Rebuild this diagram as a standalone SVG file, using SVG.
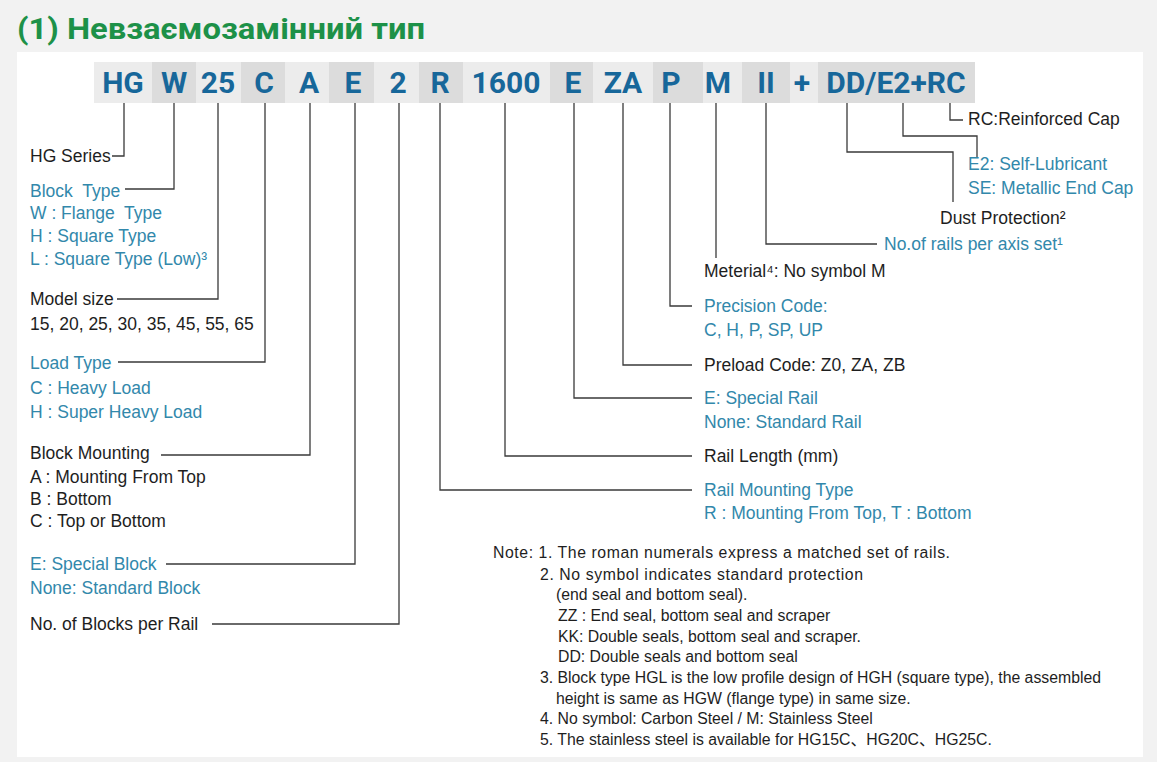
<svg xmlns="http://www.w3.org/2000/svg" width="1157" height="762" viewBox="0 0 1157 762">
<style>
.title{font-family:Roboto,"Liberation Sans",sans-serif;font-weight:bold;font-size:30px;fill:#1d9148}
.code{font-family:Roboto,"Liberation Sans",sans-serif;font-weight:bold;font-size:30px;fill:#17679a;text-anchor:middle}
.bl{fill:#ececec}
.bd{fill:#dcdcdc}
.t{font-family:"Liberation Sans",Arial,sans-serif;font-size:17.5px;fill:#1e1e1e}
.tl{font-family:"Liberation Sans",Arial,sans-serif;font-size:17.5px;fill:#3288ab}
.n{font-family:"Liberation Sans",Arial,"Noto Sans CJK SC",sans-serif;font-size:15.8px;fill:#1e1e1e}
.ln{fill:none;stroke:#3a3a3a;stroke-width:1.3}
</style>
<rect x="0" y="0" width="1157" height="762" fill="#f2f2f2"/>
<rect x="17" y="52" width="1126" height="705" fill="#ffffff"/>
<text class="title" x="17" y="39" textLength="408" lengthAdjust="spacingAndGlyphs">(1) Невзаємозамінний тип</text>

<g id="code">
<g id="c-HG"><rect class="bl" x="94" y="62" width="58" height="41"/><text class="code" x="123" y="93">HG</text></g>
<g id="c-W"><rect class="bd" x="152" y="62" width="44" height="41"/><text class="code" x="174" y="93">W</text></g>
<g id="c-25"><rect class="bl" x="196" y="62" width="45" height="41"/><text class="code" x="218" y="93">25</text></g>
<g id="c-C"><rect class="bd" x="241" y="62" width="44" height="41"/><text class="code" x="264" y="93">C</text></g>
<g id="c-A"><rect class="bl" x="285" y="62" width="44" height="41"/><text class="code" x="309" y="93">A</text></g>
<g id="c-E"><rect class="bd" x="329" y="62" width="45" height="41"/><text class="code" x="353" y="93">E</text></g>
<g id="c-2"><rect class="bl" x="374" y="62" width="45" height="41"/><text class="code" x="398" y="93">2</text></g>
<g id="c-R"><rect class="bd" x="419" y="62" width="44" height="41"/><text class="code" x="440" y="93">R</text></g>
<g id="c-1600"><rect class="bl" x="463" y="62" width="87" height="41"/><text class="code" x="506" y="93">1600</text></g>
<g id="c-E2"><rect class="bd" x="550" y="62" width="43" height="41"/><text class="code" x="573" y="93">E</text></g>
<g id="c-ZA"><rect class="bl" x="593" y="62" width="60" height="41"/><text class="code" x="623" y="93">ZA</text></g>
<g id="c-P"><rect class="bd" x="653" y="62" width="50" height="41"/><text class="code" x="671" y="93">P</text></g>
<g id="c-M"><rect class="bl" x="703" y="62" width="39" height="41"/><text class="code" x="718" y="93">M</text></g>
<g id="c-II"><rect class="bd" x="742" y="62" width="48" height="41"/><text class="code" x="766" y="93">II</text></g>
<g id="c-plus"><rect class="bl" x="790" y="62" width="28" height="41"/><text class="code" x="802" y="93">+</text></g>
<g id="c-DD"><rect class="bd" x="818" y="62" width="157" height="41"/><text class="code" x="896" y="93">DD/E2+RC</text></g>
</g>

<g id="connectors">
<path class="ln" d="M124 103V156H112"/>
<path class="ln" d="M174 103V189H125"/>
<path class="ln" d="M218 103V299H117"/>
<path class="ln" d="M265 103V362H118"/>
<path class="ln" d="M310 103V455H161"/>
<path class="ln" d="M355 103V564H166"/>
<path class="ln" d="M399 103V624H212"/>
<path class="ln" d="M440 103V490H692"/>
<path class="ln" d="M505 103V456H692"/>
<path class="ln" d="M574 103V398H692"/>
<path class="ln" d="M623 103V365H692"/>
<path class="ln" d="M670 103V306H692"/>
<path class="ln" d="M716 103V258"/>
<path class="ln" d="M766 103V244H877"/>
<path class="ln" d="M847 103V152H953V202"/>
<path class="ln" d="M903 103V136H977V158"/>
<path class="ln" d="M950 103V120H963"/>
</g>

<g id="l-series"><text class="t" x="30" y="162">HG Series</text></g>
<g id="l-block-type">
<text class="tl" x="30" y="197">Block&#160; Type</text>
<text class="tl" x="30" y="219">W : Flange&#160; Type</text>
<text class="tl" x="30" y="242">H : Square Type</text>
<text class="tl" x="30" y="265">L : Square Type (Low)³</text>
</g>
<g id="l-model">
<text class="t" x="30" y="305">Model size</text>
<text class="t" x="30" y="330">15, 20, 25, 30, 35, 45, 55, 65</text>
</g>
<g id="l-load">
<text class="tl" x="30" y="369">Load Type</text>
<text class="tl" x="30" y="394">C : Heavy Load</text>
<text class="tl" x="30" y="418">H : Super Heavy Load</text>
</g>
<g id="l-mount">
<text class="t" x="30" y="459">Block Mounting</text>
<text class="t" x="30" y="483">A : Mounting From Top</text>
<text class="t" x="30" y="505">B : Bottom</text>
<text class="t" x="30" y="527">C : Top or Bottom</text>
</g>
<g id="l-special-block">
<text class="tl" x="30" y="570">E: Special Block</text>
<text class="tl" x="30" y="594">None: Standard Block</text>
</g>
<g id="l-blocks"><text class="t" x="30" y="630">No. of Blocks per Rail</text></g>

<g id="r-rc"><text class="t" x="968" y="125">RC:Reinforced Cap</text></g>
<g id="r-e2">
<text class="tl" x="968" y="170">E2: Self-Lubricant</text>
<text class="tl" x="968" y="194">SE: Metallic End Cap</text>
</g>
<g id="r-dust"><text class="t" x="940" y="224">Dust Protection²</text></g>
<g id="r-rails"><text class="tl" x="884" y="250">No.of rails per axis set¹</text></g>
<g id="r-material"><text class="t" x="704" y="277">Meterial⁴: No symbol M</text></g>
<g id="r-precision">
<text class="tl" x="704" y="312">Precision Code:</text>
<text class="tl" x="704" y="336">C, H, P, SP, UP</text>
</g>
<g id="r-preload"><text class="t" x="704" y="371">Preload Code: Z0, ZA, ZB</text></g>
<g id="r-special-rail">
<text class="tl" x="704" y="404">E: Special Rail</text>
<text class="tl" x="704" y="428">None: Standard Rail</text>
</g>
<g id="r-length"><text class="t" x="704" y="462">Rail Length (mm)</text></g>
<g id="r-rail-mount">
<text class="tl" x="704" y="496">Rail Mounting Type</text>
<text class="tl" x="704" y="519">R : Mounting From Top, T : Bottom</text>
</g>

<g id="notes">
<text class="n" x="493" y="558" textLength="457">Note: 1. The roman numerals express a matched set of rails.</text>
<text class="n" x="540" y="580" textLength="323">2. No symbol indicates standard protection</text>
<text class="n" x="556" y="600">(end seal and bottom seal).</text>
<text class="n" x="558" y="621">ZZ : End seal, bottom seal and scraper</text>
<text class="n" x="558" y="642">KK: Double seals, bottom seal and scraper.</text>
<text class="n" x="558" y="662">DD: Double seals and bottom seal</text>
<text class="n" x="540" y="683" textLength="561">3. Block type HGL is the low profile design of HGH (square type), the assembled</text>
<text class="n" x="556" y="704">height is same as HGW (flange type) in same size.</text>
<text class="n" x="540" y="724">4. No symbol: Carbon Steel / M: Stainless Steel</text>
<text class="n" x="540" y="745">5. The stainless steel is available for HG15C、HG20C、HG25C.</text>
</g>
</svg>
